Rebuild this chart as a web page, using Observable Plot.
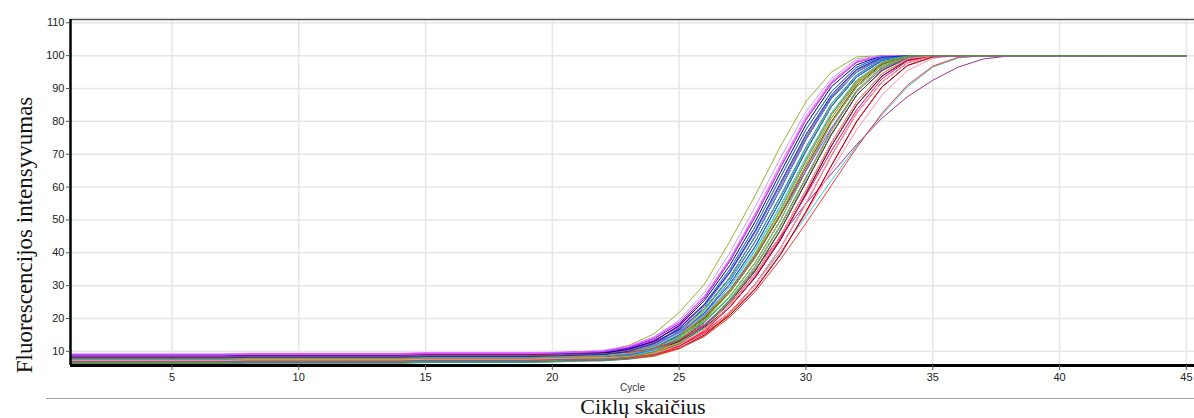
<!DOCTYPE html>
<html>
<head>
<meta charset="utf-8">
<script src="https://cdn.jsdelivr.net/npm/d3@7"></script>
<script src="https://cdn.jsdelivr.net/npm/@observablehq/plot@0.6"></script>
<style>
  html, body { margin: 0; padding: 0; background: #fff; }
  #wrap { width: 1194px; height: 418px; overflow: hidden; position: relative; }
  #below { position: relative; height: 20px; }
  #rule { position: absolute; left: 46px; right: 0; top: 0; border-top: 1.5px solid #a6a6a6; }
  #xtitle { position: absolute; left: 493px; width: 300px; top: 0; text-align: center;
            font-family: "Liberation Serif", "Times New Roman", serif; font-size: 22px; line-height: 18px; color: #111; }
  #ytitle { position: absolute; left: 24px; top: 235px; transform: translate(-50%, -50%) rotate(-90deg);
            white-space: nowrap; font-family: "Liberation Serif", "Times New Roman", serif; font-size: 23px; line-height: 23px; color: #111; }
</style>
</head>
<body>
<div id="wrap">
  <div id="chart"></div>
  <div id="below"><div id="rule"></div><div id="xtitle"></div></div>
  <div id="ytitle"></div>
</div>
<script>
const cycles = [1,2,3,4,5,6,7,8,9,10,11,12,13,14,15,16,17,18,19,20,21,22,23,24,25,26,27,28,29,30,31,32,33,34,35,36,37,38,39,40,41,42,43,44,45];
const xTicks = [5,10,15,20,25,30,35,40,45];
const yTicks = [10,20,30,40,50,60,70,80,90,100,110];
const yTitle = "Fluorescencijos intensyvumas";
const xTitle = "Ciklų skaičius";
const xAxisName = "Cycle";

const w01 = [8.6,8.6,8.6,8.6,8.6,8.6,8.6,8.8,8.8,8.8,8.8,8.8,8.8,8.8,9.0,9.0,9.0,9.0,9.0,9.2,9.4,10.0,11.8,15.3,21.8,30.5,43.5,57.5,72.5,86,95,99.6,100,100,100,100,100,100,100,100,100,100,100,100,100];
const w02 = [7.4,7.4,7.4,7.4,7.4,7.4,7.4,7.6,7.6,7.6,7.6,7.6,7.6,7.6,7.8,7.8,7.8,7.8,7.8,8.0,8.2,8.5,9.2,10.4,13,18,25.5,35,45,55,64,73,81,87.5,92.5,96.5,99,99.9,100,100,100,100,100,100,100];
const w03 = [6.3,6.3,6.3,6.3,6.3,6.3,6.3,6.4,6.4,6.4,6.4,6.4,6.4,6.4,6.6,6.6,6.6,6.6,6.6,6.8,7.0,7.4,8.2,9.2,10.8,14.5,21.5,30.5,40.5,51,62,72.5,82,90.5,96.5,99.3,100,100,100,100,100,100,100,100,100];
const w04 = [8.8,8.8,8.8,8.8,8.8,8.8,8.8,9.0,9.0,9.0,9.0,9.0,9.0,9.0,9.2,9.2,9.2,9.2,9.2,9.4,9.6,9.7,10.1,11.0,12.4,15.8,21.5,29.5,40,52,65,77.5,88,95.5,99.2,100,100,100,100,100,100,100,100,100,100];
const w05 = [7.9,7.9,7.9,7.9,7.9,7.9,7.9,8.1,8.1,8.1,8.1,8.1,8.1,8.1,8.3,8.3,8.3,8.3,8.3,8.4,8.6,8.6,9.0,9.9,12.0,16.0,22,30.5,41.5,55,69.5,82.5,92,97.8,100,100,100,100,100,100,100,100,100,100,100];
const w06 = [8.9,8.9,8.9,8.9,8.9,8.9,8.9,9.1,9.1,9.1,9.1,9.1,9.1,9.1,9.3,9.3,9.3,9.3,9.3,9.5,9.8,10.0,10.9,12.9,16.5,23,32.5,45,59.5,74.5,87,95,99.2,100,100,100,100,100,100,100,100,100,100,100,100];
const w07 = [7.1,7.1,7.1,7.1,7.1,7.1,7.1,7.3,7.3,7.3,7.3,7.3,7.3,7.3,7.5,7.5,7.5,7.5,7.5,7.6,7.8,7.9,8.5,9.9,13.2,18.9,26.8,37,50,65,79.5,90.5,97,99.8,100,100,100,100,100,100,100,100,100,100,100];
const w08 = [6.8,6.8,6.8,6.8,6.8,6.8,6.8,7.0,7.0,7.0,7.0,7.0,7.0,7.0,7.2,7.2,7.2,7.2,7.2,7.4,7.6,7.7,8.4,10.0,14.0,20.0,28.5,39.5,53,68,82,92,97.8,100,100,100,100,100,100,100,100,100,100,100,100];
const w09 = [9.1,9.1,9.1,9.1,9.1,9.1,9.1,9.3,9.3,9.3,9.3,9.3,9.3,9.3,9.5,9.5,9.5,9.5,9.5,9.6,9.8,10.1,11.1,13.4,17.4,24.5,35,48,63,77.5,89,96.5,99.8,100,100,100,100,100,100,100,100,100,100,100,100];
const w10 = [7.6,7.6,7.6,7.6,7.6,7.6,7.6,7.8,7.8,7.8,7.8,7.8,7.8,7.8,8.0,8.0,8.0,8.0,8.0,8.1,8.3,8.4,8.9,10.1,13.0,18.0,25,34.5,47,61.5,76,88,95.5,99.3,100,100,100,100,100,100,100,100,100,100,100];
const w11 = [8.2,8.2,8.2,8.2,8.2,8.2,8.2,8.4,8.4,8.4,8.4,8.4,8.4,8.4,8.6,8.6,8.6,8.6,8.6,8.8,9.0,9.2,9.9,11.8,15.8,21.8,30.5,42,56,71,84.5,93.5,98.5,100,100,100,100,100,100,100,100,100,100,100,100];
const w12 = [8.7,8.7,8.7,8.7,8.7,8.7,8.7,8.9,8.9,8.9,8.9,8.9,8.9,8.9,9.1,9.1,9.1,9.1,9.1,9.3,9.5,9.9,11.3,14.3,19.5,28,40,54,69,83,93,99,100,100,100,100,100,100,100,100,100,100,100,100,100];
const w13 = [7.0,7.0,7.0,7.0,7.0,7.0,7.0,7.2,7.2,7.2,7.2,7.2,7.2,7.2,7.4,7.4,7.4,7.4,7.4,7.5,7.7,7.8,8.2,9.2,11.8,16.5,23.5,32.5,44,58,72.5,85,93.8,98.6,100,100,100,100,100,100,100,100,100,100,100];
const w14 = [7.8,7.8,7.8,7.8,7.8,7.8,7.8,8.0,8.0,8.0,8.0,8.0,8.0,8.0,8.2,8.2,8.2,8.2,8.2,8.4,8.6,8.7,9.4,11.0,15.0,20.5,28.5,39.5,53,68,82,92,97.8,100,100,100,100,100,100,100,100,100,100,100,100];
const w15 = [6.6,6.6,6.6,6.6,6.6,6.6,6.6,6.8,6.8,6.8,6.8,6.8,6.8,6.8,7.0,7.0,7.0,7.0,7.0,7.1,7.3,7.4,8.0,9.4,12.8,18.8,26.5,37,50,65,79.5,90.5,97,99.8,100,100,100,100,100,100,100,100,100,100,100];
const w16 = [7.3,7.3,7.3,7.3,7.3,7.3,7.3,7.5,7.5,7.5,7.5,7.5,7.5,7.5,7.7,7.7,7.7,7.7,7.7,7.9,8.1,8.3,9.0,10.9,15.0,21.5,30.5,42,56,71,84.5,93.5,98.5,100,100,100,100,100,100,100,100,100,100,100,100];
const w17 = [8.5,8.5,8.5,8.5,8.5,8.5,8.5,8.7,8.7,8.7,8.7,8.7,8.7,8.7,8.9,8.9,8.9,8.9,8.9,9.1,9.3,9.4,9.9,11.1,13.6,18.3,25,34.5,47,61.5,76,88,95.5,99.3,100,100,100,100,100,100,100,100,100,100,100];
const w18 = [9.0,9.0,9.0,9.0,9.0,9.0,9.0,9.2,9.2,9.2,9.2,9.2,9.2,9.2,9.4,9.4,9.4,9.4,9.4,9.5,9.7,10.0,11.2,13.8,18.4,26.2,37.5,51,66,80.5,91.5,98,100,100,100,100,100,100,100,100,100,100,100,100,100];
const w19 = [6.9,6.9,6.9,6.9,6.9,6.9,6.9,7.1,7.1,7.1,7.1,7.1,7.1,7.1,7.3,7.3,7.3,7.3,7.3,7.5,7.7,7.9,8.8,10.8,15.0,22.5,32.5,45,59.5,74.5,87,95,99.2,100,100,100,100,100,100,100,100,100,100,100,100];
const w20 = [8.0,8.0,8.0,8.0,8.0,8.0,8.0,8.2,8.2,8.2,8.2,8.2,8.2,8.2,8.4,8.4,8.4,8.4,8.4,8.6,8.8,8.8,9.1,9.9,11.6,15.5,21,29,39.5,52.5,66.5,80,90.5,97,99.6,100,100,100,100,100,100,100,100,100,100];
const w21 = [7.7,7.7,7.7,7.7,7.7,7.7,7.7,7.9,7.9,7.9,7.9,7.9,7.9,7.9,8.1,8.1,8.1,8.1,8.1,8.3,8.5,8.8,9.8,12.1,16.8,24.5,35,48,63,77.5,89,96.5,99.8,100,100,100,100,100,100,100,100,100,100,100,100];
const w22 = [8.4,8.4,8.4,8.4,8.4,8.4,8.4,8.6,8.6,8.6,8.6,8.6,8.6,8.6,8.8,8.8,8.8,8.8,8.8,9.0,9.2,9.3,10.0,11.6,15.2,20.8,28.8,39.5,53,68,82,92,97.8,100,100,100,100,100,100,100,100,100,100,100,100];
const w23 = [6.4,6.4,6.4,6.4,6.4,6.4,6.4,6.6,6.6,6.6,6.6,6.6,6.6,6.6,6.8,6.8,6.8,6.8,6.8,7.0,7.2,7.2,7.6,8.5,10.8,15.0,21.5,30.5,41.5,55,69.5,82.5,92,97.8,100,100,100,100,100,100,100,100,100,100,100];
const w24 = [7.5,7.5,7.5,7.5,7.5,7.5,7.5,7.7,7.7,7.7,7.7,7.7,7.7,7.7,7.9,7.9,7.9,7.9,7.9,8.1,8.3,8.4,8.8,9.8,12.5,17.0,23.5,32.5,44,58,72.5,85,93.8,98.6,100,100,100,100,100,100,100,100,100,100,100];
const w25 = [8.3,8.3,8.3,8.3,8.3,8.3,8.3,8.5,8.5,8.5,8.5,8.5,8.5,8.5,8.7,8.7,8.7,8.7,8.7,8.9,9.1,9.3,10.0,11.9,15.8,21.8,30.5,42,56,71,84.5,93.5,98.5,100,100,100,100,100,100,100,100,100,100,100,100];
const w26 = [8.9,8.9,8.9,8.9,8.9,8.9,8.9,9.1,9.1,9.1,9.1,9.1,9.1,9.1,9.3,9.3,9.3,9.3,9.3,9.4,9.6,9.8,10.7,12.7,16.5,23,32.5,45,59.5,74.5,87,95,99.2,100,100,100,100,100,100,100,100,100,100,100,100];
const w27 = [7.2,7.2,7.2,7.2,7.2,7.2,7.2,7.4,7.4,7.4,7.4,7.4,7.4,7.4,7.6,7.6,7.6,7.6,7.6,7.8,8.0,8.1,8.7,10.1,13.6,19.2,26.8,37,50,65,79.5,90.5,97,99.8,100,100,100,100,100,100,100,100,100,100,100];
const w28 = [8.1,8.1,8.1,8.1,8.1,8.1,8.1,8.3,8.3,8.3,8.3,8.3,8.3,8.3,8.5,8.5,8.5,8.5,8.5,8.7,8.9,9.2,10.4,13.0,18.0,26.2,37.5,51,66,80.5,91.5,98,100,100,100,100,100,100,100,100,100,100,100,100,100];
const w29 = [6.7,6.7,6.7,6.7,6.7,6.7,6.7,6.9,6.9,6.9,6.9,6.9,6.9,6.9,7.1,7.1,7.1,7.1,7.1,7.2,7.4,7.5,8.0,9.2,12.3,17.6,25,34.5,47,61.5,76,88,95.5,99.3,100,100,100,100,100,100,100,100,100,100,100];
const w30 = [7.9,7.9,7.9,7.9,7.9,7.9,7.9,8.1,8.1,8.1,8.1,8.1,8.1,8.1,8.3,8.3,8.3,8.3,8.3,8.5,8.7,8.8,9.5,11.1,15.0,20.5,28.5,39.5,53,68,82,92,97.8,100,100,100,100,100,100,100,100,100,100,100,100];
const w31 = [8.6,8.6,8.6,8.6,8.6,8.6,8.6,8.8,8.8,8.8,8.8,8.8,8.8,8.8,9.0,9.0,9.0,9.0,9.0,9.2,9.4,9.5,9.9,10.9,13.2,17.4,23.5,32.5,44,58,72.5,85,93.8,98.6,100,100,100,100,100,100,100,100,100,100,100];
const w32 = [8.0,8.0,8.0,8.0,8.0,8.0,8.0,8.2,8.2,8.2,8.2,8.2,8.2,8.2,8.4,8.4,8.4,8.4,8.4,8.6,8.8,8.8,9.2,10.1,12.5,16.3,22,30.5,41.5,55,69.5,82.5,92,97.8,100,100,100,100,100,100,100,100,100,100,100];
const w33 = [7.4,7.4,7.4,7.4,7.4,7.4,7.4,7.6,7.6,7.6,7.6,7.6,7.6,7.6,7.8,7.8,7.8,7.8,7.8,8.0,8.2,8.4,9.1,11.0,15.2,21.6,30.5,42,56,71,84.5,93.5,98.5,100,100,100,100,100,100,100,100,100,100,100,100];
const w34 = [8.3,8.3,8.3,8.3,8.3,8.3,8.3,8.5,8.5,8.5,8.5,8.5,8.5,8.5,8.7,8.7,8.7,8.7,8.7,8.9,9.1,9.2,9.8,11.2,14.2,19.4,26.8,37,50,65,79.5,90.5,97,99.8,100,100,100,100,100,100,100,100,100,100,100];
const w35 = [6.9,6.9,6.9,6.9,6.9,6.9,6.9,7.1,7.1,7.1,7.1,7.1,7.1,7.1,7.3,7.3,7.3,7.3,7.3,7.5,7.7,7.7,8.0,8.8,11.0,15.0,21,29,39.5,52.5,66.5,80,90.5,97,99.6,100,100,100,100,100,100,100,100,100,100];
const w36 = [7.6,7.6,7.6,7.6,7.6,7.6,7.6,7.8,7.8,7.8,7.8,7.8,7.8,7.8,8.0,8.0,8.0,8.0,8.0,8.2,8.4,8.6,9.5,11.5,15.8,23,32.5,45,59.5,74.5,87,95,99.2,100,100,100,100,100,100,100,100,100,100,100,100];
const w37 = [8.2,8.2,8.2,8.2,8.2,8.2,8.2,8.4,8.4,8.4,8.4,8.4,8.4,8.4,8.6,8.6,8.6,8.6,8.6,8.8,9.0,9.1,10.2,12.6,17.0,24.0,34.0,46.5,61,75.5,87.5,95.5,99.4,100,100,100,100,100,100,100,100,100,100,100,100];
const w38 = [7.0,7.0,7.0,7.0,7.0,7.0,7.0,7.2,7.2,7.2,7.2,7.2,7.2,7.2,7.4,7.4,7.4,7.4,7.4,7.6,7.8,7.9,8.6,10.3,14.3,20.8,29.8,41,54.5,69,82.5,92.5,98,100,100,100,100,100,100,100,100,100,100,100,100];
const w39 = [8.8,8.8,8.8,8.8,8.8,8.8,8.8,9.0,9.0,9.0,9.0,9.0,9.0,9.0,9.2,9.2,9.2,9.2,9.2,9.3,9.5,9.7,10.6,12.4,15.7,21.0,28.8,39,51.5,65,78,89,96,99.5,100,100,100,100,100,100,100,100,100,100,100];
const w40 = [6.5,6.5,6.5,6.5,6.5,6.5,6.5,6.7,6.7,6.7,6.7,6.7,6.7,6.7,6.9,6.9,6.9,6.9,6.9,7.1,7.3,7.3,7.8,8.9,11.5,16.2,23.4,32.8,44.5,57.5,71,83.5,93,98.4,100,100,100,100,100,100,100,100,100,100,100];
const w41 = [7.7,7.7,7.7,7.7,7.7,7.7,7.7,7.9,7.9,7.9,7.9,7.9,7.9,7.9,8.1,8.1,8.1,8.1,8.1,8.3,8.5,8.7,9.6,11.7,16.0,22.8,32.0,43.5,57,71.5,84.8,94,98.8,100,100,100,100,100,100,100,100,100,100,100,100];
const w42 = [8.5,8.5,8.5,8.5,8.5,8.5,8.5,8.7,8.7,8.7,8.7,8.7,8.7,8.7,8.9,8.9,8.9,8.9,8.9,9.1,9.3,9.5,10.6,13.1,17.8,25.5,36.2,49.5,64.5,79,90.5,97.2,100,100,100,100,100,100,100,100,100,100,100,100,100];
const w43 = [7.3,7.3,7.3,7.3,7.3,7.3,7.3,7.5,7.5,7.5,7.5,7.5,7.5,7.5,7.7,7.7,7.7,7.7,7.7,7.8,8.0,8.0,8.5,9.6,12.6,17.8,25.2,35.5,48,62.5,77,89,96.2,99.5,100,100,100,100,100,100,100,100,100,100,100];
const w44 = [9.2,9.2,9.2,9.2,9.2,9.2,9.2,9.4,9.4,9.4,9.4,9.4,9.4,9.4,9.6,9.6,9.6,9.6,9.6,9.7,9.9,10.3,11.6,14.4,19.0,26.8,38.2,52,67,81.5,92.2,98.4,100,100,100,100,100,100,100,100,100,100,100,100,100];
const w45 = [6.2,6.2,6.2,6.2,6.2,6.2,6.2,6.4,6.4,6.4,6.4,6.4,6.4,6.4,6.6,6.6,6.6,6.6,6.6,6.8,7.0,7.1,7.7,9.0,12.2,17.8,25.8,36,48.5,63,77.5,89.5,96.5,99.6,100,100,100,100,100,100,100,100,100,100,100];
const w46 = [8.1,8.1,8.1,8.1,8.1,8.1,8.1,8.3,8.3,8.3,8.3,8.3,8.3,8.3,8.5,8.5,8.5,8.5,8.5,8.7,8.9,9.0,9.6,11.1,14.6,20.2,28.0,38.5,51.5,66,80,91,97.4,100,100,100,100,100,100,100,100,100,100,100,100];
const w47 = [7.5,7.5,7.5,7.5,7.5,7.5,7.5,7.7,7.7,7.7,7.7,7.7,7.7,7.7,7.9,7.9,7.9,7.9,7.9,8.1,8.3,8.5,9.4,11.6,16.2,23.6,33.8,46.2,60.5,75,87.5,95.6,99.4,100,100,100,100,100,100,100,100,100,100,100,100];
const w48 = [7.0,7.0,7.0,7.0,7.0,7.0,7.0,7.2,7.2,7.2,7.2,7.2,7.2,7.2,7.4,7.4,7.4,7.4,7.4,7.6,7.8,7.8,8.1,8.9,10.9,14.6,20.4,28.2,38,49,60.5,72,82.5,91,96.8,99.5,100,100,100,100,100,100,100,100,100];
const w49 = [7.9,7.9,7.9,7.9,7.9,7.9,7.9,8.1,8.1,8.1,8.1,8.1,8.1,8.1,8.3,8.3,8.3,8.3,8.3,8.5,8.7,8.8,9.5,11.3,15.3,21.2,29.6,40.6,54,68.8,82.6,92.6,98,100,100,100,100,100,100,100,100,100,100,100,100];
const w50 = [8.4,8.4,8.4,8.4,8.4,8.4,8.4,8.6,8.6,8.6,8.6,8.6,8.6,8.6,8.8,8.8,8.8,8.8,8.8,9.0,9.2,9.2,9.7,10.8,13.4,17.8,24.4,33.6,45.2,59,73.5,86,94.5,99,100,100,100,100,100,100,100,100,100,100,100];
const w51 = [6.8,6.8,6.8,6.8,6.8,6.8,6.8,7.0,7.0,7.0,7.0,7.0,7.0,7.0,7.2,7.2,7.2,7.2,7.2,7.4,7.6,7.8,8.7,10.7,15.0,21.9,31.4,43.4,57.4,72.2,85.4,94.2,98.9,100,100,100,100,100,100,100,100,100,100,100,100];
const w52 = [7.6,7.6,7.6,7.6,7.6,7.6,7.6,7.8,7.8,7.8,7.8,7.8,7.8,7.8,8.0,8.0,8.0,8.0,8.0,8.2,8.4,8.5,9.2,10.8,14.6,20.6,28.9,39.8,53.2,68,82,92.3,97.9,100,100,100,100,100,100,100,100,100,100,100,100];
const w53 = [8.9,8.9,8.9,8.9,8.9,8.9,8.9,9.1,9.1,9.1,9.1,9.1,9.1,9.1,9.3,9.3,9.3,9.3,9.3,9.5,9.7,10.0,11.3,14.0,18.9,26.9,38.0,51.4,66.2,80.8,91.8,98.1,100,100,100,100,100,100,100,100,100,100,100,100,100];
const w54 = [7.2,7.2,7.2,7.2,7.2,7.2,7.2,7.4,7.4,7.4,7.4,7.4,7.4,7.4,7.6,7.6,7.6,7.6,7.6,7.8,8.0,8.0,8.4,9.4,11.9,16.6,23.8,33.4,45.4,59.2,73.6,86,94.6,99.1,100,100,100,100,100,100,100,100,100,100,100];
const w55 = [8.0,8.0,8.0,8.0,8.0,8.0,8.0,8.2,8.2,8.2,8.2,8.2,8.2,8.2,8.4,8.4,8.4,8.4,8.4,8.6,8.8,9.0,10.0,12.4,17.0,24.2,34.2,46.8,61.4,76,88,95.9,99.5,100,100,100,100,100,100,100,100,100,100,100,100];
const w56 = [6.6,6.6,6.6,6.6,6.6,6.6,6.6,6.8,6.8,6.8,6.8,6.8,6.8,6.8,7.0,7.0,7.0,7.0,7.0,7.2,7.4,7.5,8.2,9.8,13.5,19.6,28.0,38.8,52,66.8,81,91.6,97.6,100,100,100,100,100,100,100,100,100,100,100,100];

const wellNames = ["A1","A2","A3","A4","A5","A6","A7","A8","A9","A10","A11","A12","B1","B2","B3","B4","B5","B6","B7","B8","B9","B10","B11","B12","C1","C2","C3","C4","C5","C6","C7","C8","C9","C10","C11","C12","D1","D2","D3","D4","D5","D6","D7","D8","D9","D10","D11","D12","E1","E2","E3","E4","E5","E6","E7","E8"];
const wellValues = [w01,w02,w03,w04,w05,w06,w07,w08,w09,w10,w11,w12,w13,w14,w15,w16,w17,w18,w19,w20,w21,w22,w23,w24,w25,w26,w27,w28,w29,w30,w31,w32,w33,w34,w35,w36,w37,w38,w39,w40,w41,w42,w43,w44,w45,w46,w47,w48,w49,w50,w51,w52,w53,w54,w55,w56];
const wellColors = ["#99b433","#993399","#33cccc","#ff8fa8","#ff0000","#0000ff","#000000","#009900","#ff00ff","#990000","#3399ff","#cc99ff","#ff9900","#666699","#00cc99","#996633","#ff3399","#6600cc","#66cc00","#cc0066","#0099cc","#9999ff","#cc6600","#339966","#ff6666","#3333cc","#999999","#cc33cc","#006666","#cccc00","#660066","#ff99cc","#0066ff","#99cc33","#cc0000","#6699cc","#ff6600","#00ccff","#9933ff","#ff0066","#33cc33","#000099","#cc9900","#ff66ff","#339999","#993300","#6666ff","#ff3333","#66cccc","#cc3366","#3366ff","#999933","#cc66ff","#ff9966","#0033cc","#669933"];

wellValues.forEach((v, i) => { if (v.length !== cycles.length) throw new Error("well " + wellNames[i] + " has " + v.length + " values"); });

const rows = wellValues.flatMap((vals, i) => cycles.map((c, j) => ({cycle: c, value: vals[j], well: wellNames[i]})));

const chart = Plot.plot({
  width: 1194,
  height: 398,
  marginLeft: 70,
  marginRight: 0,
  marginTop: 19,
  marginBottom: 33,
  style: {fontFamily: "'Liberation Sans', Arial, sans-serif", fontSize: "11px", color: "#222", background: "white", overflow: "visible"},
  x: {domain: [1, 45.32]},
  y: {domain: [5.7, 111]},
  color: {domain: wellNames, range: wellColors},
  marks: [
    Plot.gridX(xTicks, {stroke: "#e6e6e6", strokeOpacity: 1, strokeWidth: 1.5}),
    Plot.gridY(yTicks, {stroke: "#e6e6e6", strokeOpacity: 1, strokeWidth: 1.5}),
    Plot.line(rows, {x: "cycle", y: "value", z: "well", stroke: "well", strokeWidth: 1}),
    Plot.ruleY([111], {stroke: "#555", strokeWidth: 1.5}),
    Plot.ruleY([5.7], {stroke: "#000", strokeWidth: 3}),
    Plot.ruleX([1], {stroke: "#000", strokeWidth: 2.5}),
    Plot.axisX(xTicks, {tickSize: 5, tickPadding: 3, stroke: "#555", color: "#222", label: null, fontSize: 11}),
    Plot.axisY(yTicks, {tickSize: 4, tickPadding: 2, stroke: "#555", color: "#222", label: null, fontSize: 11}),
    Plot.text([xAxisName], {text: d => d, frameAnchor: "bottom", dy: 25, fontSize: 10, fill: "#333"})
  ]
});
document.getElementById("chart").appendChild(chart);
document.getElementById("xtitle").textContent = xTitle;
document.getElementById("ytitle").textContent = yTitle;
</script>
</body>
</html>
